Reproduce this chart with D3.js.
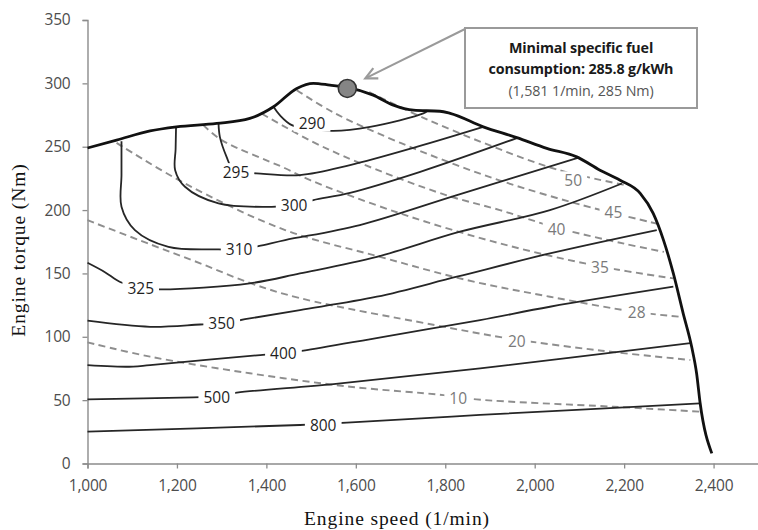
<!DOCTYPE html>
<html>
<head>
<meta charset="utf-8">
<script src="https://cdn.jsdelivr.net/npm/d3@7"></script>
<style>
  html, body { margin: 0; padding: 0; background: #fff; }
  svg { display: block; }
</style>
</head>
<body>
<script>
// ---------- data (engine speed in 1/min, torque in Nm) ----------
const xTicks = [1000, 1200, 1400, 1600, 1800, 2000, 2200, 2400];
const yTicks = [0, 50, 100, 150, 200, 250, 300, 350];

const fullLoad = [[1000,249],[1065,255.2],[1140,262.5],[1199,265.7],[1289,268.4],[1363,272.3],[1416,281.5],
  [1468,296],[1505,300],[1542,298.6],[1580,296.8],[1639,290.7],[1684,282.8],[1729,278.8],[1788,278],
  [1811,276.3],[1885,265.7],[1960,257.2],[2027,248.7],[2094,242],[2146,231.5],[2191,223.6],[2236,213.2],
  [2265,197.4],[2288,176.3],[2310,150],[2332,118.5],[2351,92.1],[2362,71.2],[2370,47.5],[2396,8]];

const bsfcLevels = [290, 295, 300, 310, 325, 350, 400, 500, 800];
const bsfc290 = [[1416,281.5],[1430,274.9],[1457,267],[1502,264.3],[1550,262.5],[1632,265.7],[1751,276.3],[1761,278.5]];
const bsfc295 = [[1293,268.4],[1296,257.8],[1311,242],[1325,232],[1350,229.5],[1378,229],[1475,227.6],[1587,235.5],[1736,249.9],[1885,265.7]];
const bsfc300 = [[1198,265.6],[1197,248],[1196,231.5],[1218,218.4],[1293,205.3],[1412,202.6],[1462,204],[1505,207.9],[1587,213.6],[1744,230.2],[1960,256.8]];
const bsfc310 = [[1076,254.4],[1076,227.6],[1076,202.6],[1106,184.2],[1181,171],[1293,169],[1339,168.8],[1382,171.6],[1442,176.3],[1609,188.2],[1826,211.8],[2100,241.5]];
const bsfc325 = [[1000,158.4],[1039,151],[1073,143.2],[1119,138.2],[1166,137.4],[1363,142.2],[1475,150],[1647,163.1],[1833,182.9],[2034,200],[2195,221]];
const bsfc350 = [[1000,112.7],[1140,107.9],[1252,109.7],[1300,110.6],[1363,114.5],[1475,121.1],[1647,131.6],[1826,147.4],[2034,165.8],[2273,184.2]];
const bsfc400 = [[1000,77.7],[1102,76.4],[1140,77.7],[1386,85.6],[1438,86.9],[1483,89],[1662,100],[1878,113.2],[2034,123.7],[2310,139.5]];
const bsfc500 = [[1000,50.6],[1237,52.2],[1289,53],[1334,55.9],[1550,62.7],[1878,75.1],[2348,95]];
const bsfc800 = [[1000,25.1],[1475,30.4],[1527,31.3],[1580,32.2],[1878,38.3],[2370,47.5]];
const bsfcLabelAt = [[1502,268.6],[1332,229.6],[1462,203.9],[1339,168.8],[1119,138.2],[1300,110.6],[1438,86.9],[1289,52.2],[1527,30.4]];

const powerLevels = [10, 20, 28, 35, 40, 45, 50];
const power10 = [[1000,95.6],[1140,84.3],[1363,71.2],[1587,60.6],[1796,54],[1870,50.6],[2176,44.8],[2370,40.9]];
const power20 = [[1000,192],[1140,173],[1252,158],[1363,142.5],[1475,130.5],[1773,109.5],[1937,99],[2150,89],[2348,81.7]];
const power28 = [[1065,253],[1218,221],[1442,184.2],[1654,163.1],[1848,144.8],[2034,131.6],[2228,119.5],[2325,115.8]];
const power35 = [[1259,267],[1300,255.2],[1442,233],[1498,223.6],[1699,197.4],[1922,173.7],[2146,155.5],[2310,146.1]];
const power40 = [[1390,276],[1500,254.5],[1600,238.5],[1800,212],[1922,200],[2050,186],[2200,173.5],[2289,167]];
const power45 = [[1468,294.6],[1550,277],[1700,253],[1900,226],[2100,204.5],[2277,189]];
const power50 = [[1630,293],[1750,273],[1900,251],[2050,232],[2206,219.5]];
const powerLabelAt = [[1829,51.7],[1960,96.6],[2228,119],[2146,154.8],[2049,185],[2176,198.2],[2086,223.1]];

const optimum = [1581, 296];
const noteLines = ["Minimal specific fuel", "consumption: 285.8 g/kWh", "(1,581 1/min, 285 Nm)"];
const xTitle = "Engine speed (1/min)";
const yTitle = "Engine torque (Nm)";

// ---------- drawing ----------
const W = 758, H = 530;
const svg = d3.select("body").append("svg").attr("width", W).attr("height", H);

const x = d3.scaleLinear().domain([1000, 2500]).range([87.5, 758.3]);
const y = d3.scaleLinear().domain([0, 350]).range([463.5, 20]);

const sansFont = "'Open Sans', 'DejaVu Sans', sans-serif";
const serifFont = "'Liberation Serif', 'DejaVu Serif', serif";

// axes
const xAxis = svg.append("g").attr("transform", `translate(0,${y(0)})`)
  .call(d3.axisBottom(x).tickValues(xTicks).tickFormat(d3.format(",")).tickSize(5).tickPadding(9));
const yAxis = svg.append("g").attr("transform", `translate(${x(1000)},0)`)
  .call(d3.axisLeft(y).tickValues(yTicks).tickSize(5).tickPadding(12));
[xAxis, yAxis].forEach(g => {
  g.selectAll("path.domain").attr("stroke", "#8c8c8c").attr("stroke-width", 1.4);
  g.selectAll(".tick line").attr("stroke", "#8c8c8c").attr("stroke-width", 1.3);
  g.selectAll(".tick text").attr("fill", "#4d4d4d").style("font-family", sansFont).style("font-size", "15.5px")
    .style("letter-spacing", "-0.2px");
});
xAxis.selectAll(".tick text").attr("dy", "0.85em");

// axis titles
svg.append("text").attr("x", 397).attr("y", 525).attr("text-anchor", "middle")
  .style("font-family", serifFont).style("font-size", "19.5px").style("letter-spacing", "0.9px")
  .attr("fill", "#111").text(xTitle);
svg.append("text").attr("transform", `translate(25,250) rotate(-90)`).attr("text-anchor", "middle")
  .style("font-family", serifFont).style("font-size", "19.5px").style("letter-spacing", "0.9px")
  .attr("fill", "#111").text(yTitle);

const line = d3.line().x(d => x(d[0])).y(d => y(d[1])).curve(d3.curveCatmullRom.alpha(0.5));

// constant power lines (dashed)
const powerSeries = [power10, power20, power28, power35, power40, power45, power50];
svg.append("g").selectAll("path").data(powerSeries).join("path")
  .attr("d", line).attr("fill", "none").attr("stroke", "#8e8e8e")
  .attr("stroke-width", 1.9).attr("stroke-dasharray", "7,4.5");

// BSFC contours (solid)
const bsfcSeries = [bsfc290, bsfc295, bsfc300, bsfc310, bsfc325, bsfc350, bsfc400, bsfc500, bsfc800];
svg.append("g").selectAll("path").data(bsfcSeries).join("path")
  .attr("d", line).attr("fill", "none").attr("stroke", "#262626").attr("stroke-width", 1.8);

// full load curve
svg.append("path").datum(fullLoad)
  .attr("d", d3.line().x(d => x(d[0])).y(d => y(d[1])).curve(d3.curveMonotoneX))
  .attr("fill", "none").attr("stroke", "#111").attr("stroke-width", 2.8)
  .attr("stroke-linejoin", "round");

// labels with white knock-out boxes
function addLabels(levels, pos, color) {
  const g = svg.append("g");
  levels.forEach((lv, i) => {
    const lg = g.append("g");
    const t = lg.append("text").attr("x", x(pos[i][0])).attr("y", y(pos[i][1]))
      .attr("dy", "0.36em").attr("text-anchor", "middle")
      .style("font-family", sansFont).style("font-size", "15.5px").attr("fill", color).text(lv);
    const b = t.node().getBBox();
    lg.insert("rect", "text").attr("x", b.x - 5).attr("y", b.y + 2).attr("width", b.width + 10)
      .attr("height", b.height - 4).attr("fill", "#fff");
  });
}
addLabels(powerLevels, powerLabelAt, "#7a7a7a");
addLabels(bsfcLevels, bsfcLabelAt, "#1f1f1f");

// optimum point
svg.append("circle").attr("cx", x(optimum[0])).attr("cy", y(optimum[1])).attr("r", 9)
  .attr("fill", "#858585").attr("stroke", "#333").attr("stroke-width", 1.6);

// annotation box
const box = {x0: 465, y0: 28, x1: 697, y1: 108};
const tip = [x(optimum[0]) + 18, y(optimum[1]) - 10];
const start = [box.x0, box.y0 + 1];
svg.append("line").attr("x1", start[0]).attr("y1", start[1]).attr("x2", tip[0]).attr("y2", tip[1])
  .attr("stroke", "#9a9a9a").attr("stroke-width", 2);
{
  const dx = start[0] - tip[0], dy = start[1] - tip[1], L = Math.hypot(dx, dy);
  const ux = dx / L, uy = dy / L, len = 13, a = Math.PI / 7;
  const w1 = [tip[0] + len * (ux * Math.cos(a) - uy * Math.sin(a)), tip[1] + len * (ux * Math.sin(a) + uy * Math.cos(a))];
  const w2 = [tip[0] + len * (ux * Math.cos(-a) - uy * Math.sin(-a)), tip[1] + len * (ux * Math.sin(-a) + uy * Math.cos(-a))];
  svg.append("path").attr("d", `M${w1}L${tip}L${w2}`).attr("fill", "none")
    .attr("stroke", "#9a9a9a").attr("stroke-width", 2.2).attr("stroke-linejoin", "miter");
}
svg.append("rect").attr("x", box.x0).attr("y", box.y0).attr("width", box.x1 - box.x0).attr("height", box.y1 - box.y0)
  .attr("fill", "#fff").attr("stroke", "#9a9a9a").attr("stroke-width", 2);
const cx = (box.x0 + box.x1) / 2;
[[53, "bold", "#1a1a1a", "-0.15px"], [74, "bold", "#1a1a1a", "-0.15px"], [95.5, "normal", "#555", "-0.1px"]].forEach((s, i) => {
  svg.append("text").attr("x", cx).attr("y", s[0]).attr("text-anchor", "middle")
    .style("font-family", sansFont).style("font-size", "14.3px").style("font-weight", s[1])
    .style("letter-spacing", s[3]).attr("fill", s[2]).text(noteLines[i]);
});
</script>
</body>
</html>
